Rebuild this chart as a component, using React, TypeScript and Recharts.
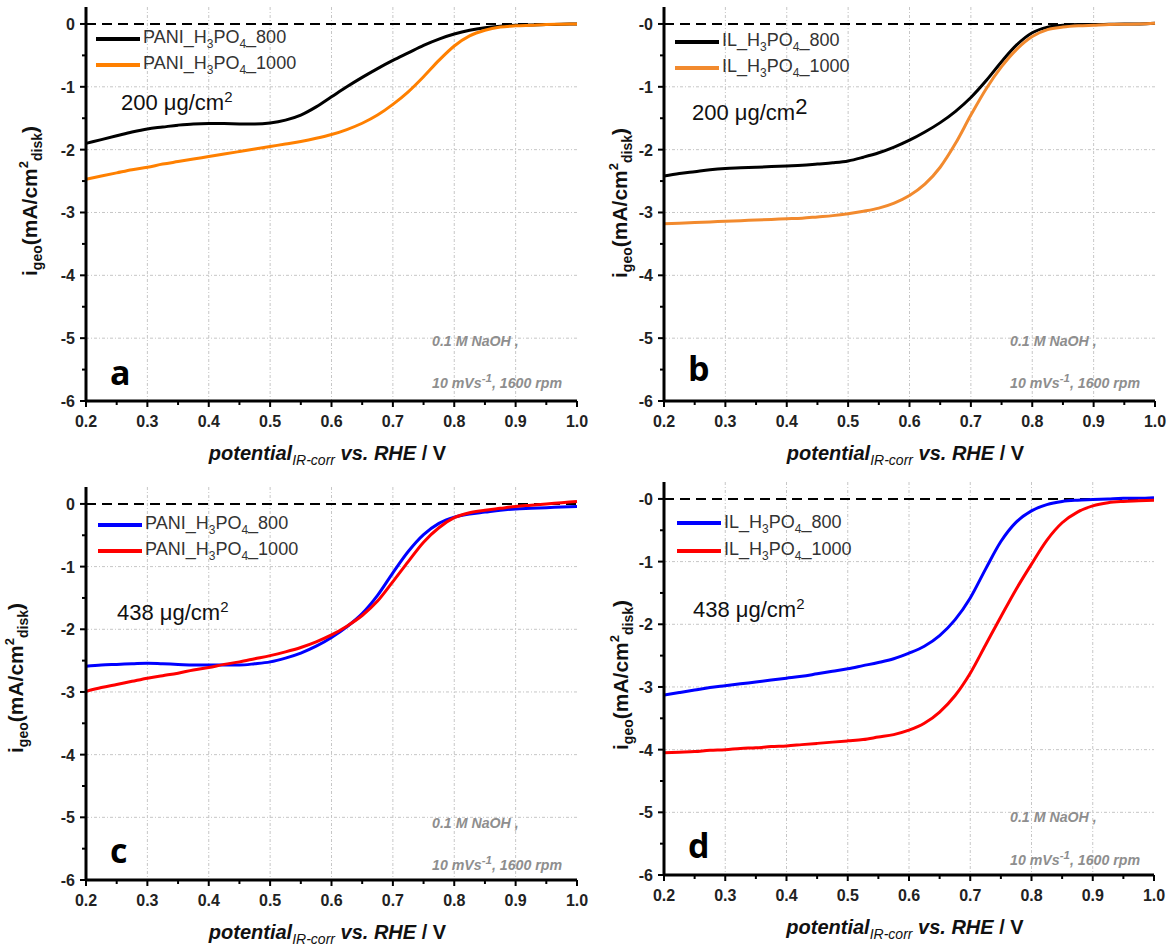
import React from "react";
import {
  CartesianGrid,
  Legend,
  Line,
  LineChart,
  ReferenceLine,
  XAxis,
  YAxis,
} from "recharts";

// potential (V vs RHE), shared by every curve
const potential = [
  0.2, 0.225, 0.25, 0.275, 0.3, 0.325, 0.35, 0.375, 0.4, 0.425, 0.45, 0.475,
  0.5, 0.525, 0.55, 0.575, 0.6, 0.625, 0.65, 0.675, 0.7, 0.725, 0.75, 0.775,
  0.8, 0.825, 0.85, 0.875, 0.9, 0.925, 0.95, 0.975, 1.0,
];

// panel a: PANI, 200 µg/cm2
const pani800Low = [
  -1.9, -1.84, -1.78, -1.72, -1.67, -1.64, -1.61, -1.59, -1.585, -1.585, -1.59,
  -1.59, -1.575, -1.53, -1.45, -1.32, -1.16, -1.0, -0.85, -0.71, -0.58, -0.46,
  -0.34, -0.24, -0.16, -0.1, -0.06, -0.035, -0.02, -0.015, -0.01, -0.005, 0,
];
const pani1000Low = [
  -2.47, -2.42, -2.37, -2.32, -2.28, -2.23, -2.19, -2.15, -2.11, -2.07, -2.03,
  -1.99, -1.95, -1.91, -1.87, -1.82, -1.76, -1.68, -1.58, -1.45, -1.28, -1.08,
  -0.84, -0.58, -0.35, -0.19, -0.1, -0.05, -0.03, -0.02, -0.01, -0.005, 0,
];

// panel b: IL, 200 µg/cm2
const il800Low = [
  -2.42, -2.38, -2.35, -2.32, -2.3, -2.29, -2.28, -2.27, -2.26, -2.25, -2.23,
  -2.21, -2.18, -2.12, -2.05, -1.96, -1.85, -1.72, -1.57, -1.39, -1.17, -0.9,
  -0.6, -0.33, -0.14, -0.05, -0.02, -0.01, -0.01, -0.005, 0, 0, 0.01,
];
const il1000Low = [
  -3.18, -3.17, -3.16, -3.15, -3.14, -3.13, -3.12, -3.11, -3.1, -3.09, -3.07,
  -3.05, -3.02, -2.98, -2.93, -2.85, -2.73, -2.55, -2.28, -1.9, -1.45, -1.03,
  -0.68, -0.4, -0.2, -0.09, -0.05, -0.03, -0.02, -0.01, -0.005, 0, 0.01,
];

// panel c: PANI, 438 µg/cm2
const pani800High = [
  -2.59, -2.57, -2.56, -2.55, -2.54, -2.55, -2.56, -2.57, -2.57, -2.57, -2.57,
  -2.55, -2.52, -2.46, -2.38, -2.27, -2.13, -1.96, -1.75, -1.46, -1.1, -0.76,
  -0.49, -0.31, -0.21, -0.16, -0.13, -0.1, -0.08, -0.07, -0.06, -0.05, -0.04,
];
const pani1000High = [
  -2.99, -2.93, -2.88, -2.83, -2.78, -2.74, -2.7, -2.65, -2.61, -2.56, -2.52,
  -2.47, -2.42, -2.36, -2.29, -2.2, -2.09, -1.95, -1.78, -1.55, -1.24, -0.92,
  -0.61, -0.38, -0.22, -0.14, -0.1, -0.07, -0.04, -0.02, 0, 0.02, 0.04,
];

// panel d: IL, 438 µg/cm2
const il800High = [
  -3.13, -3.09, -3.05, -3.01, -2.98, -2.95, -2.92, -2.89, -2.86, -2.83, -2.79,
  -2.75, -2.71, -2.66, -2.61, -2.55, -2.46, -2.35, -2.18, -1.93, -1.58, -1.12,
  -0.68, -0.37, -0.19, -0.09, -0.04, -0.02, -0.01, 0, 0.01, 0.01, 0.02,
];
const il1000High = [
  -4.05, -4.04, -4.03, -4.01, -4.0, -3.98, -3.97, -3.95, -3.94, -3.92, -3.9,
  -3.88, -3.86, -3.84, -3.8, -3.76, -3.69, -3.58, -3.4, -3.14, -2.78, -2.33,
  -1.88, -1.44, -1.04, -0.66, -0.38, -0.21, -0.11, -0.06, -0.04, -0.03, -0.02,
];

const xTicks = [
  0.2, 0.25, 0.3, 0.35, 0.4, 0.45, 0.5, 0.55, 0.6, 0.65, 0.7, 0.75, 0.8, 0.85,
  0.9, 0.95, 1.0,
];
const yTicks = [-6, -5.5, -5, -4.5, -4, -3.5, -3, -2.5, -2, -1.5, -1, -0.5, 0];
const xGrid = [0.3, 0.4, 0.5, 0.6, 0.7, 0.8, 0.9];
const yGrid = [-5, -4, -3, -2, -1];

const FONT = '"Liberation Sans", Arial, Helvetica, sans-serif';

type Series = {
  key: string;
  prefix: string;
  temp: string;
  values: number[];
  color: string;
};

type Box = { left: number; top: number; width: number; height: number };
type Plot = { left: number; top: number; right: number; bottom: number };

type PanelProps = {
  box: Box;
  plot: Plot;
  series: Series[];
  zeroLabel: string;
  yTitle: { x: number; y: number };
  legend: { x: number; y: number; gap: number };
  mass: { x: number; y: number; value: string; bigSup?: boolean };
  letter: { x: number; y: number; ch: string };
  note: { x: number; y1: number; y2: number };
};

const isMajor = (v: number, step: number) =>
  Math.abs(v / step - Math.round(v / step)) < 1e-6;

function XTick(props: any) {
  const { x, y, payload } = props;
  const v = payload.value as number;
  const major = isMajor(v, 0.1);
  return (
    <g>
      <line x1={x} x2={x} y1={y} y2={y + (major ? 6 : 4)} stroke="#000" strokeWidth={2} />
      {major && (
        <text
          x={x}
          y={y + 26}
          textAnchor="middle"
          fontFamily={FONT}
          fontWeight="bold"
          fontSize={16}
          fill="#222"
        >
          {v.toFixed(1)}
        </text>
      )}
    </g>
  );
}

function makeYTick(zeroLabel: string) {
  return function YTick(props: any) {
    const { x, y, payload } = props;
    const v = payload.value as number;
    const major = isMajor(v, 1);
    return (
      <g>
        <line x1={x} x2={x - (major ? 6 : 4)} y1={y} y2={y} stroke="#000" strokeWidth={2} />
        {major && (
          <text
            x={x - 11}
            y={y + 6}
            textAnchor="end"
            fontFamily={FONT}
            fontWeight="bold"
            fontSize={16}
            fill="#222"
          >
            {v === 0 ? zeroLabel : String(v)}
          </text>
        )}
      </g>
    );
  };
}

function LegendBox({ series, gap }: { series: Series[]; gap: number }) {
  return (
    <div style={{ fontFamily: FONT, fontSize: 18, color: "#333" }}>
      {series.map((s) => (
        <div
          key={s.key}
          style={{ display: "flex", alignItems: "center", height: gap, whiteSpace: "nowrap" }}
        >
          <span style={{ display: "inline-block", width: 44, height: 4, background: s.color }} />
          <span style={{ marginLeft: 3 }}>
            {s.prefix}_H<sub style={{ fontSize: 12 }}>3</sub>PO
            <sub style={{ fontSize: 12 }}>4</sub>_{s.temp}
          </span>
        </div>
      ))}
    </div>
  );
}

function Panel(p: PanelProps) {
  const { box, plot, series } = p;
  const data = potential.map((x, i) => {
    const row: Record<string, number> = { x };
    series.forEach((s) => {
      row[s.key] = s.values[i];
    });
    return row;
  });
  const ox = box.left;
  const oy = box.top;
  const margin = {
    top: plot.top - oy,
    right: ox + box.width - plot.right,
    left: 0,
    bottom: 0,
  };
  const yWidth = plot.left - ox;
  const xHeight = oy + box.height - plot.bottom;
  const frame = { stroke: "#000", strokeWidth: 3 };
  const YTick = makeYTick(p.zeroLabel);
  const noteStyle: React.CSSProperties = {
    position: "absolute",
    left: p.note.x,
    fontFamily: FONT,
    fontWeight: "bold",
    fontStyle: "italic",
    fontSize: 14.2,
    lineHeight: "18px",
    color: "#8e8e8e",
    whiteSpace: "nowrap",
  };

  return (
    <>
      <div style={{ position: "absolute", left: ox, top: oy }}>
        <LineChart width={box.width} height={box.height} data={data} margin={margin}>
          <CartesianGrid
            horizontalValues={yGrid}
            verticalValues={xGrid}
            stroke="#c6c6c6"
            strokeDasharray="3 2 1 2"
          />
          <XAxis
            dataKey="x"
            type="number"
            domain={[0.2, 1]}
            ticks={xTicks}
            interval={0}
            height={xHeight}
            tickSize={0}
            tickMargin={0}
            tickLine={false}
            axisLine={frame}
            tick={(t: any) => <XTick {...t} />}
            label={() => (
              <text
                x={(plot.left + plot.right) / 2 - 4 - ox}
                y={plot.bottom + 59 - oy}
                textAnchor="middle"
                fontFamily={FONT}
                fontWeight="bold"
                fontStyle="italic"
                fontSize={20}
                fill="#111"
              >
                potential
                <tspan fontSize={14} fontWeight="normal" dy={5}>
                  IR-corr
                </tspan>
                <tspan dy={-5}> vs. RHE</tspan>
                <tspan fontStyle="normal"> / V</tspan>
              </text>
            )}
          />
          <XAxis
            xAxisId="top"
            dataKey="x"
            type="number"
            domain={[0.2, 1]}
            orientation="top"
            height={0}
            tick={false}
            tickLine={false}
            axisLine={frame}
          />
          <YAxis
            type="number"
            domain={[-6, 0.27]}
            ticks={yTicks}
            interval={0}
            allowDataOverflow
            width={yWidth}
            tickSize={0}
            tickMargin={0}
            tickLine={false}
            axisLine={frame}
            tick={(t: any) => <YTick {...t} />}
            label={() => {
              const cx = p.yTitle.x - ox;
              const cy = p.yTitle.y - oy;
              return (
                <text
                  x={cx}
                  y={cy}
                  transform={`rotate(-90, ${cx}, ${cy})`}
                  textAnchor="middle"
                  fontFamily={FONT}
                  fontWeight="bold"
                  fontSize={21}
                  fill="#111"
                >
                  i
                  <tspan fontSize={14} dy={5}>
                    geo
                  </tspan>
                  <tspan dy={-5}>(mA/cm</tspan>
                  <tspan fontSize={13} dy={-9}>
                    2
                  </tspan>
                  <tspan fontSize={14} dy={14}>
                    disk
                  </tspan>
                  <tspan dy={-5}>)</tspan>
                </text>
              );
            }}
          />
          <YAxis
            yAxisId="right"
            type="number"
            domain={[-6, 0.27]}
            orientation="right"
            width={0}
            tick={false}
            tickLine={false}
            axisLine={frame}
          />
          <ReferenceLine y={0} stroke="#000" strokeWidth={2} strokeDasharray="10 6" />
          {series.map((s) => (
            <Line
              key={s.key}
              type="monotone"
              dataKey={s.key}
              stroke={s.color}
              strokeWidth={3}
              dot={false}
              isAnimationActive={false}
            />
          ))}
          <Legend
            layout="vertical"
            align="center"
            verticalAlign="middle"
            wrapperStyle={{
              left: p.legend.x - ox,
              top: p.legend.y - p.legend.gap / 2 - oy,
              width: "auto",
            }}
            content={() => <LegendBox series={series} gap={p.legend.gap} />}
          />
        </LineChart>
      </div>

      <div
        style={{
          position: "absolute",
          left: p.mass.x,
          top: p.mass.y - 16,
          fontFamily: FONT,
          fontSize: 22,
          lineHeight: "26px",
          color: "#111",
          whiteSpace: "nowrap",
        }}
      >
        {p.mass.value} μg/cm
        <sup style={{ fontSize: p.mass.bigSup ? 22 : 15, verticalAlign: p.mass.bigSup ? 6 : 8 }}>
          2
        </sup>
      </div>

      <div
        style={{
          position: "absolute",
          left: p.letter.x,
          top: p.letter.y - 22,
          fontFamily: '"Open Sans", "Liberation Sans", sans-serif',
          fontWeight: "bold",
          fontSize: 34,
          lineHeight: "44px",
          color: "#000",
        }}
      >
        {p.letter.ch}
      </div>

      <div style={{ ...noteStyle, top: p.note.y1 - 9 }}>0.1 M NaOH ,</div>
      <div style={{ ...noteStyle, top: p.note.y2 - 9 }}>
        10 mVs<sup style={{ fontSize: 11.5, verticalAlign: 6 }}>-1</sup>, 1600 rpm
      </div>
    </>
  );
}

export default function App() {
  return (
    <div
      style={{
        position: "absolute",
        left: 0,
        top: 0,
        width: 1168,
        height: 947,
        background: "#fff",
        overflow: "hidden",
      }}
    >
      <Panel
        box={{ left: 0, top: 0, width: 590, height: 470 }}
        plot={{ left: 86, top: 7, right: 577, bottom: 401 }}
        series={[
          { key: "a800", prefix: "PANI", temp: "800", values: pani800Low, color: "#000000" },
          { key: "a1000", prefix: "PANI", temp: "1000", values: pani1000Low, color: "#ff8000" },
        ]}
        zeroLabel="0"
        yTitle={{ x: 37, y: 201 }}
        legend={{ x: 96, y: 38.5, gap: 26.5 }}
        mass={{ x: 121, y: 100, value: "200" }}
        letter={{ x: 110, y: 372, ch: "a" }}
        note={{ x: 432, y1: 341, y2: 378 }}
      />
      <Panel
        box={{ left: 590, top: 0, width: 578, height: 470 }}
        plot={{ left: 664, top: 7, right: 1155, bottom: 401 }}
        series={[
          { key: "b800", prefix: "IL", temp: "800", values: il800Low, color: "#000000" },
          { key: "b1000", prefix: "IL", temp: "1000", values: il1000Low, color: "#f28a2e" },
        ]}
        zeroLabel="-0"
        yTitle={{ x: 627, y: 203 }}
        legend={{ x: 675, y: 41.7, gap: 26.6 }}
        mass={{ x: 692, y: 110, value: "200", bigSup: true }}
        letter={{ x: 688, y: 368, ch: "b" }}
        note={{ x: 1010, y1: 341, y2: 378 }}
      />
      <Panel
        box={{ left: 0, top: 470, width: 590, height: 477 }}
        plot={{ left: 86, top: 487, right: 577, bottom: 880 }}
        series={[
          { key: "c800", prefix: "PANI", temp: "800", values: pani800High, color: "#0000ff" },
          { key: "c1000", prefix: "PANI", temp: "1000", values: pani1000High, color: "#ff0000" },
        ]}
        zeroLabel="0"
        yTitle={{ x: 23, y: 678 }}
        legend={{ x: 98, y: 525, gap: 25.7 }}
        mass={{ x: 117, y: 610, value: "438" }}
        letter={{ x: 110, y: 850, ch: "c" }}
        note={{ x: 432, y1: 823, y2: 860 }}
      />
      <Panel
        box={{ left: 590, top: 470, width: 578, height: 477 }}
        plot={{ left: 664, top: 482, right: 1154, bottom: 875 }}
        series={[
          { key: "d800", prefix: "IL", temp: "800", values: il800High, color: "#0000ff" },
          { key: "d1000", prefix: "IL", temp: "1000", values: il1000High, color: "#ff0000" },
        ]}
        zeroLabel="-0"
        yTitle={{ x: 628, y: 675 }}
        legend={{ x: 677, y: 523.5, gap: 27.4 }}
        mass={{ x: 693, y: 607, value: "438" }}
        letter={{ x: 688, y: 845, ch: "d" }}
        note={{ x: 1010, y1: 817, y2: 855 }}
      />
    </div>
  );
}
